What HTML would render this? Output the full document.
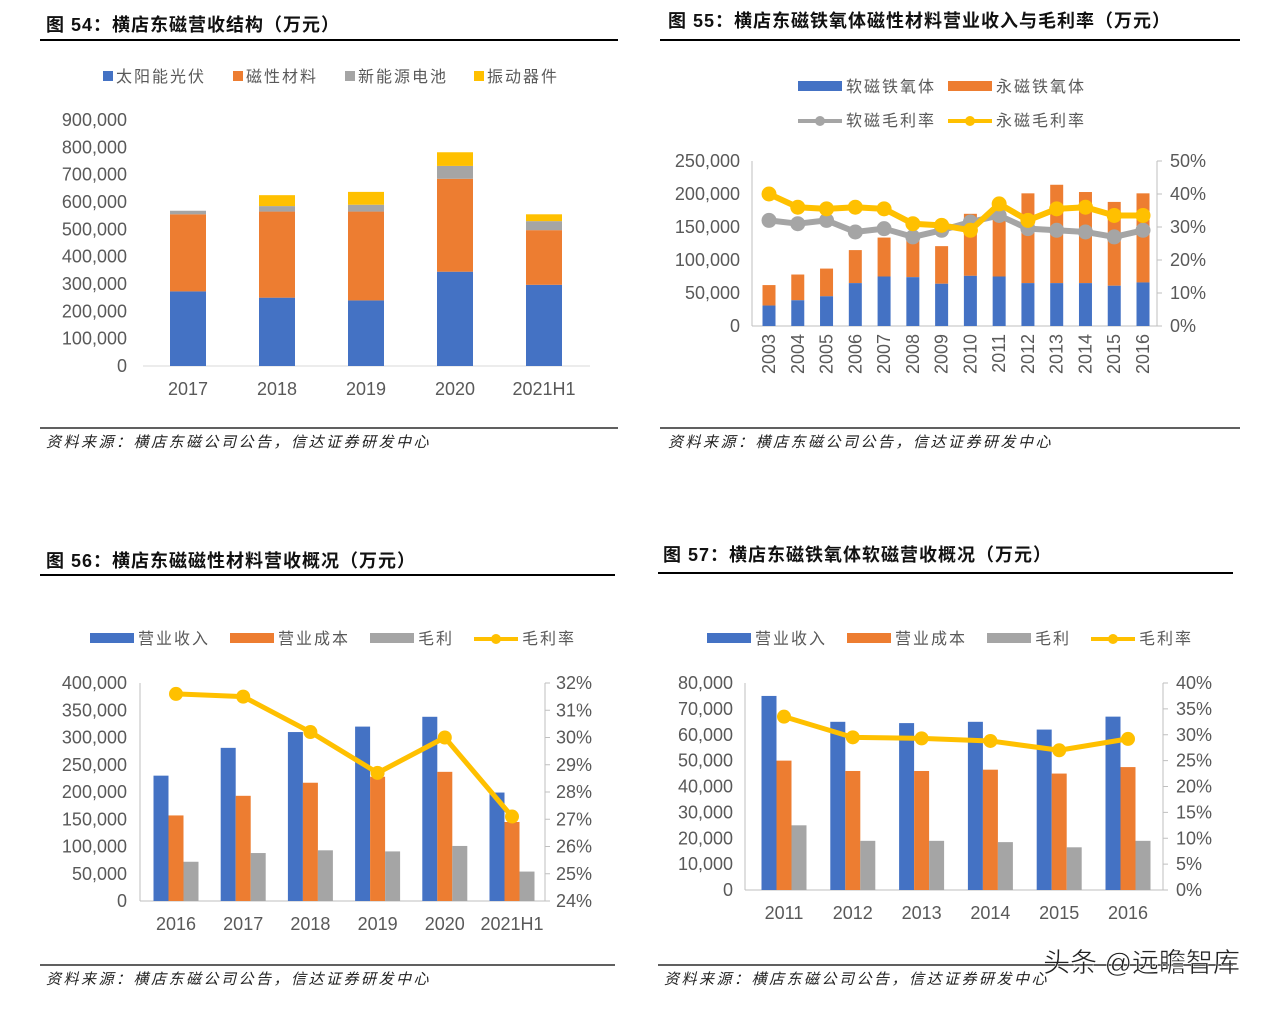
<!DOCTYPE html>
<html><head><meta charset="utf-8"><style>
body{margin:0;background:#fff}
svg text{font-family:"Liberation Sans","Noto Sans CJK SC",sans-serif}
.t{font-size:18px;font-weight:bold;fill:#111;letter-spacing:1px}
.s{font-size:15px;font-style:italic;fill:#222;letter-spacing:2.5px}
.a{font-size:18px;fill:#595959}
.l{font-size:16px;fill:#595959;letter-spacing:2px}
</style></head><body>
<svg id="s" width="1267" height="1006" xmlns="http://www.w3.org/2000/svg"></svg>
<script>
const S=document.getElementById('s');let h='';
const B='#4472C4',O='#ED7D31',G='#A5A5A5',Y='#FFC000';
function r(x,y,w,hh,c){h+=`<rect x="${x}" y="${y}" width="${w}" height="${hh}" fill="${c}"/>`}
function t(x,y,s,c,a,extra){h+=`<text x="${x}" y="${y}" class="${c}" text-anchor="${a||'start'}" ${extra||''}>${s}</text>`}
function ln(x1,y1,x2,y2,c,w){h+=`<line x1="${x1}" y1="${y1}" x2="${x2}" y2="${y2}" stroke="${c}" stroke-width="${w||1}"/>`}
function fmt(n){return n.toLocaleString('en-US')}
function poly(pts,c,w,rad){h+=`<polyline points="${pts.map(p=>p.join(',')).join(' ')}" fill="none" stroke="${c}" stroke-width="${w}" stroke-linejoin="round"/>`;pts.forEach(p=>h+=`<circle cx="${p[0]}" cy="${p[1]}" r="${rad}" fill="${c}"/>`)}
t(46,31,'图 54：横店东磁营收结构（万元）','t');ln(40,40,618,40,'#000',2);
t(668,27,'图 55：横店东磁铁氧体磁性材料营业收入与毛利率（万元）','t');ln(660,40,1240,40,'#000',2);
t(46,567,'图 56：横店东磁磁性材料营收概况（万元）','t');ln(40,575,615,575,'#000',2);
t(663,561,'图 57：横店东磁铁氧体软磁营收概况（万元）','t');ln(658,573,1233,573,'#000',2);
ln(40,428,618,428,'#000',1.2);ln(660,428,1240,428,'#000',1.2);
ln(40,965,615,965,'#000',1.2);ln(658,965,1233,965,'#000',1.2);
t(46,447,'资料来源：横店东磁公司公告，信达证券研发中心','s');t(668,447,'资料来源：横店东磁公司公告，信达证券研发中心','s');
t(46,984,'资料来源：横店东磁公司公告，信达证券研发中心','s');t(664,984,'资料来源：横店东磁公司公告，信达证券研发中心','s');
function leg(x,y,c,s,line){if(line){ln(x,y-5,x+44,y-5,c,4);h+=`<circle cx="${x+22}" cy="${y-5}" r="5" fill="${c}"/>`;t(x+48,y,s,'l')}else{r(x,y-11,line===0?44:10,10,c);t(x+(line===0?48:13),y,s,'l')}}
[[103,B,'太阳能光伏'],[233,O,'磁性材料'],[345,G,'新能源电池'],[474,Y,'振动器件']].forEach(a=>leg(a[0],82,a[1],a[2]));
{const y0=366,k=246/900000;for(let v=0;v<=900000;v+=100000)t(127,y0-v*k+6,fmt(v),'a','end');ln(143,y0,590,y0,'#d9d9d9');
const d=[['2017',273,555,568,568],['2018',250,565,585,625],['2019',240,565,590,637],['2020',345,685,732,782],['2021H1',297,497,530,555]];
d.forEach((e,i)=>{const cx=188+i*89;let prev=0;[B,O,G,Y].forEach((c,j)=>{const v=e[j+1]*1000;r(cx-18,y0-v*k,36,(v-prev)*k,c);prev=v});t(cx,395,e[0],'a','middle')})}
leg(798,92,B,'软磁铁氧体',0);leg(948,92,O,'永磁铁氧体',0);leg(798,126,G,'软磁毛利率',1);leg(948,126,Y,'永磁毛利率',1);
{const y0=326,k=165/250000,pk=165/50;for(let v=0;v<=250000;v+=50000)t(740,y0-v*k+6,fmt(v),'a','end');
for(let p=0;p<=50;p+=10){t(1170,y0-p*pk+6,p+'%','a');ln(1157,y0-p*pk,1162,y0-p*pk,'#bfbfbf')}
ln(752,161,752,y0,'#bfbfbf');ln(1157,161,1157,y0,'#bfbfbf');ln(752,y0,1157,y0,'#bfbfbf');
const bl=[31,39,45,65,75,74,64,76,75,65,65,65,61,66],to=[62,78,87,115,134,130,121,170,170,201,214,203,188,201];
const yl=[40,36,35.5,36,35.5,31,30.5,29,37,32,35.5,36,33.5,33.5],gr=[32,31,32,28.5,29.5,27,29,31.5,33.5,29.5,29,28.5,27,29];
const X=i=>769+i*28.77;
bl.forEach((v,i)=>{r(X(i)-6.5,y0-to[i]*1000*k,13,(to[i]-v)*1000*k,O);r(X(i)-6.5,y0-v*1000*k,13,v*1000*k,B);
t(X(i)+6,334,2003+i,'a','end',`transform="rotate(-90 ${X(i)+6} 334)"`)});
poly(gr.map((v,i)=>[X(i),y0-v*pk]),G,6,7.5);poly(yl.map((v,i)=>[X(i),y0-v*pk]),Y,6,7.5)}
leg(90,644,B,'营业收入',0);leg(230,644,O,'营业成本',0);leg(370,644,G,'毛利',0);leg(474,644,Y,'毛利率',1);
{const y0=901,k=218/400000,pk=218/8;for(let v=0;v<=400000;v+=50000)t(127,y0-v*k+6,fmt(v),'a','end');
for(let p=24;p<=32;p++){t(556,y0-(p-24)*pk+6,p+'%','a');ln(545,y0-(p-24)*pk,550,y0-(p-24)*pk,'#bfbfbf')}
ln(140,683,140,y0,'#bfbfbf');ln(545,683,545,y0,'#bfbfbf');ln(140,y0,545,y0,'#bfbfbf');
const c=['2016','2017','2018','2019','2020','2021H1'],b=[230,281,310,320,338,199],o=[157,193,217,228,237,145],g=[72,88,93,91,101,54],m=[31.6,31.5,30.2,28.7,30.0,27.1];
const X=i=>176+i*67.2;
c.forEach((s,i)=>{[[b,B],[o,O],[g,G]].forEach((a,j)=>r(X(i)-22.5+j*15,y0-a[0][i]*1000*k,15,a[0][i]*1000*k,a[1]));t(X(i),930,s,'a','middle')});
poly(m.map((v,i)=>[X(i),y0-(v-24)*pk]),Y,5,7)}
leg(707,644,B,'营业收入',0);leg(847,644,O,'营业成本',0);leg(987,644,G,'毛利',0);leg(1091,644,Y,'毛利率',1);
{const y0=890,k=207/80000,pk=207/40;for(let v=0;v<=80000;v+=10000)t(733,y0-v*k+6,fmt(v),'a','end');
for(let p=0;p<=40;p+=5){t(1176,y0-p*pk+6,p+'%','a');ln(1163,y0-p*pk,1168,y0-p*pk,'#bfbfbf')}
ln(745,683,745,y0,'#bfbfbf');ln(1163,683,1163,y0,'#bfbfbf');ln(745,y0,1163,y0,'#bfbfbf');
const b=[75,65,64.5,65,62,67],o=[50,46,46,46.5,45,47.5],g=[25,19,19,18.5,16.5,19],m=[33.5,29.5,29.3,28.8,27,29.2];
const X=i=>784+i*68.8;
b.forEach((v,i)=>{[[b,B],[o,O],[g,G]].forEach((a,j)=>r(X(i)-22.5+j*15,y0-a[0][i]*1000*k,15,a[0][i]*1000*k,a[1]));t(X(i),919,2011+i,'a','middle')});
poly(m.map((v,i)=>[X(i),y0-v*pk]),Y,5,7)}
h+=`<text x="1240" y="972" text-anchor="end" style="font-size:27px;fill:#222;stroke:#fff;stroke-width:0.5">头条 @远瞻智库</text>`;
S.innerHTML=h;
</script>
</body></html>
